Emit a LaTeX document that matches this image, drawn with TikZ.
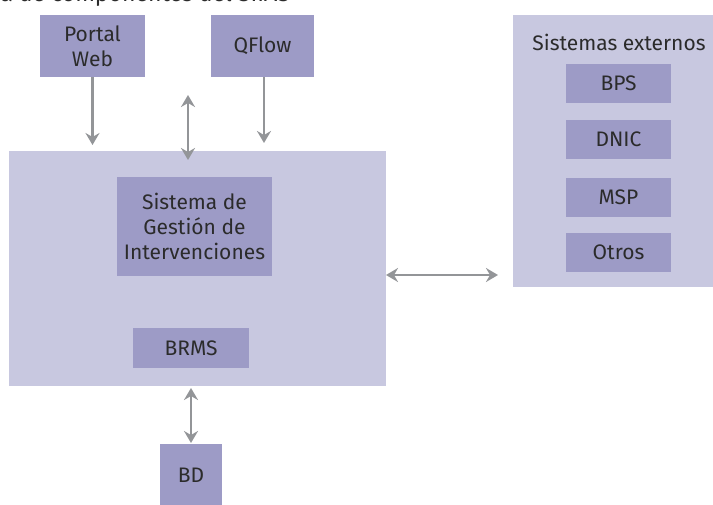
\documentclass[tikz,border=0pt]{standalone}
\usepackage{fontspec}
\setmainfont{Fira Sans}
\usetikzlibrary{arrows.meta}
\definecolor{lightbox}{HTML}{C8C8E0}
\definecolor{darkbox}{HTML}{9D9BC6}
\definecolor{arrowgray}{HTML}{939598}
\definecolor{txt}{HTML}{2B2B2B}
\tikzset{
  lbox/.style={fill=lightbox, draw=none, inner sep=0pt},
  dbox/.style={fill=darkbox, draw=none, inner sep=0pt},
  lbl/.style={text=txt, font=\fontsize{21}{25}\selectfont, align=center, inner sep=0pt},
  conn/.style={draw=arrowgray, line width=2.8pt, -{Stealth[length=12pt,width=14pt,inset=4pt]}},
  conn2/.style={draw=arrowgray, line width=2.8pt, {Stealth[length=12pt,width=14pt,inset=4pt]}-{Stealth[length=12pt,width=14pt,inset=4pt]}},
}
\begin{document}
\begin{tikzpicture}[x=1pt,y=-1pt]
\useasboundingbox (0,0) rectangle (713,504);
\begin{scope}
\clip (0,0) rectangle (713,504);
% caption (cut off at top)
\node[text=txt, font=\fontsize{23}{27}\selectfont, inner sep=0pt, anchor=base east] (cap) at (290,1) {Arquitectura de componentes del SIIAS};
% boxes
\node[dbox, minimum width=105pt, minimum height=62pt] (portal) at (92.5,46) {};
\node[lbl] at (portal.center) {Portal\\Web};
\node[dbox, minimum width=103pt, minimum height=62pt] (qflow) at (262.5,46) {};
\node[lbl] at (qflow.center) {QFlow};
\node[lbox, minimum width=377pt, minimum height=235pt] (main) at (197.5,268.5) {};
\node[dbox, minimum width=155pt, minimum height=99pt] (sgi) at (194.5,226.5) {};
\node[lbl] at (sgi.center) {Sistema de\\Gestión de\\Intervenciones};
\node[dbox, minimum width=116pt, minimum height=40pt] (brms) at (191,348) {};
\node[lbl] at (brms.center) {BRMS};
\node[dbox, minimum width=62pt, minimum height=62pt] (bd) at (191,475) {};
\node[lbl] at (bd.center) {BD};
\node[lbox, minimum width=200pt, minimum height=272pt] (ext) at (613,151) {};
\node[lbl, anchor=center] (exttitle) at (619,42) {Sistemas externos};
\node[dbox, minimum width=105pt, minimum height=39pt] (bps) at (618.5,83.5) {};
\node[lbl] at (bps.center) {BPS};
\node[dbox, minimum width=105pt, minimum height=39pt] (dnic) at (618.5,139.5) {};
\node[lbl] at (dnic.center) {DNIC};
\node[dbox, minimum width=105pt, minimum height=39pt] (msp) at (618.5,197.5) {};
\node[lbl] at (msp.center) {MSP};
\node[dbox, minimum width=105pt, minimum height=39pt] (otros) at (618.5,252.5) {};
\node[lbl] at (otros.center) {Otros};
% connectors
\coordinate (p1) at (92.5,145);
\coordinate (q1) at (264,143);
\coordinate (d1) at (188,95);
\coordinate (d2) at (188,160);
\coordinate (h1) at (386,275);
\coordinate (h2) at (498,275);
\coordinate (b1) at (191,388);
\coordinate (b2) at (191,443);
\draw[conn] (portal.south) -- (p1);
\draw[conn] (qflow.south -| q1) -- (q1);
\draw[conn2] (d1) -- (d2);
\draw[conn2] (h1) -- (h2);
\draw[conn2] (b1) -- (b2);
\end{scope}
\end{tikzpicture}
\end{document}
